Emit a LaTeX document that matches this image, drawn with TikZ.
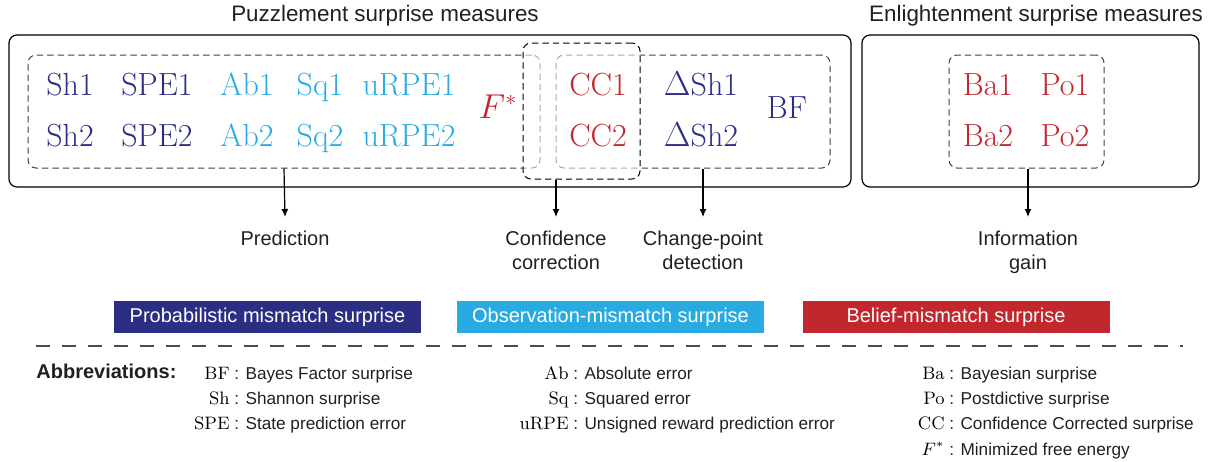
\documentclass[tikz,border=0pt]{standalone}
\usepackage{fontspec}
\newfontfamily\arial{Liberation Sans}
\usepackage{tikz}
\usetikzlibrary{arrows.meta, fit}
\definecolor{pmblue}{HTML}{2B2E83}
\definecolor{omblue}{HTML}{29ABE2}
\definecolor{bmred}{HTML}{C1272D}
\definecolor{txtgray}{HTML}{231F20}
\tikzset{
    outer box/.style={draw, line width=0.6pt, rounded corners=4pt, inner sep=0pt}, % solid frames
    group box/.style={draw=black!75, dashed, dash pattern=on 3.2pt off 2pt, line width=0.5pt, rounded corners=4pt, inner sep=0pt}, % dashed groups
    cc box/.style={group box, draw=black, fill=white, fill opacity=0.55},
    measure/.style={anchor=base, inner sep=0pt, font=\fontsize{16}{19}\selectfont},
    title/.style={font=\arial\fontsize{11.2}{13}\selectfont, text=txtgray},
    lbl/.style={anchor=north, align=center, inner ysep=7pt, font=\arial\fontsize{10}{12}\selectfont, text=txtgray},
    bar/.style={fill=#1, text=white, minimum width=153.5pt, minimum height=16pt, inner sep=0pt, font=\arial\fontsize{10}{12}\selectfont},
    arr/.style={-{Latex[length=4pt, width=3.5pt]}, line width=0.6pt},
    key/.style={anchor=base east, inner xsep=1pt, inner ysep=0pt, font=\fontsize{9}{10}\selectfont},
    expl/.style={anchor=base west, inner xsep=1pt, inner ysep=0pt, font=\arial\fontsize{8.6}{10}\selectfont, text=txtgray}
}

\begin{document}
\begin{tikzpicture}[x=0.5pt, y=-0.5pt]
    \useasboundingbox (0,0) rectangle (1211,461);
    \def\rowa{95} \def\rowb{146}

    \node[title] (ptitle) at (385,16) {Puzzlement surprise measures};
    \node[title] (etitle) at (1036,16) {Enlightenment surprise measures};

    \node[outer box, fit={(9,35) (851,187)}] (pbox) {};
    \node[outer box, fit={(862,35) (1199,187)}] (ebox) {};
    \node[group box, fit={(28,55) (540,168)}] (predbox) {};
    \node[group box, fit={(556,55) (830,168)}] (cpbox) {};
    \node[group box, fit={(949,55) (1104,168)}] (igbox) {};
    \node[cc box, fit={(523,43) (640,179)}] (ccbox) {};

    % measures, two rows each
    \foreach \m/\x/\c in {Sh/70/pmblue, SPE/157/pmblue, Ab/247/omblue, Sq/320/omblue, uRPE/409/omblue, CC/598/bmred, Ba/988/bmred, Po/1065/bmred} {
        \node[measure, text=\c] (\m1) at (\x,\rowa) {\m1};
        \node[measure, text=\c] (\m2) at (\x,\rowb) {\m2};
    }
    \node[measure, text=pmblue] (dSh1) at (701,\rowa) {$\Delta$Sh1};
    \node[measure, text=pmblue] (dSh2) at (701,\rowb) {$\Delta$Sh2};
    \node[measure, text=pmblue] (BF) at (787,118) {BF};
    \node[measure, text=bmred] (Fstar) at (498,118) {$F^*$};

    \node[lbl] (pred) at (285,217) {Prediction};
    \node[lbl] (conf) at (556,217) {Confidence\\correction};
    \node[lbl] (cpd) at (703,217) {Change-point\\detection};
    \node[lbl] (info) at (1028,217) {Information\\gain};
    \draw[arr] (predbox.south) -- (pred.north);
    \draw[arr] (conf.north |- ccbox.south) -- (conf.north);
    \draw[arr] (cpd.north |- cpbox.south) -- (cpd.north);
    \draw[arr] (info.north |- igbox.south) -- (info.north);

    \node[bar=pmblue] (pms) at (267.5,317) {Probabilistic mismatch surprise};
    \node[bar=omblue] (oms) at (610.5,317) {Observation-mismatch surprise};
    \node[bar=bmred] (bms) at (956,317) {Belief-mismatch surprise};

    \coordinate (sepL) at (36,346); \coordinate (sepR) at (1183,346);
    \draw[black!70, line width=0.6pt, dash pattern=on 7pt off 6pt] (sepL) -- (sepR);

    % abbreviations
    \node[anchor=base west, inner sep=0pt, font=\arial\bfseries\fontsize{10}{12}\selectfont, text=txtgray] (abbr) at (36,378) {Abbreviations:};
    \foreach \k/\t [count=\i] in {BF/Bayes Factor surprise, Sh/Shannon surprise, SPE/State prediction error} {
        \node[key] (ka\i) at (232,{354+25.3*\i}) {\k};
        \node[expl] (ea\i) at (232,{354+25.3*\i}) {: \t};
    }
    \foreach \k/\t [count=\i] in {Ab/Absolute error, Sq/Squared error, uRPE/Unsigned reward prediction error} {
        \node[key] (kb\i) at (571,{354+25.3*\i}) {\k};
        \node[expl] (eb\i) at (571,{354+25.3*\i}) {: \t};
    }
    \foreach \k/\t [count=\i] in {Ba/Bayesian surprise, Po/Postdictive surprise, CC/Confidence Corrected surprise, $F^*$/Minimized free energy} {
        \node[key] (kc\i) at (947,{354+25.3*\i}) {\k};
        \node[expl] (ec\i) at (947,{354+25.3*\i}) {: \t};
    }
\end{tikzpicture}
\end{document}
